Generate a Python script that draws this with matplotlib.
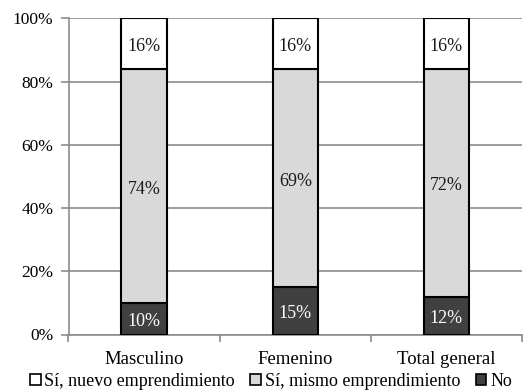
import matplotlib
matplotlib.use("Agg")
import matplotlib.pyplot as plt
import numpy as np
from matplotlib.patches import Patch

categories = ["Masculino", "Femenino", "Total general"]
no_vals = [10, 15, 12]
mismo_vals = [74, 69, 72]
nuevo_vals = [16, 16, 16]
series_names = ["Sí, nuevo emprendimiento", "Sí, mismo emprendimiento", "No"]
ytick_labels = ["0%", "20%", "40%", "60%", "80%", "100%"]

plt.rcParams["font.family"] = ["Liberation Serif", "DejaVu Serif"]

fig = plt.figure(figsize=(5.23, 3.92), dpi=100)
ax = fig.add_axes([68.5 / 523, 1 - 334.5 / 392, (522 - 68.5) / 523, (334.5 - 18.3) / 392])

x = np.arange(len(categories))
w = 0.3
dark, light, white = "#404040", "#d9d9d9", "#ffffff"

no_arr = np.array(no_vals, float)
mismo_arr = np.array(mismo_vals, float)
nuevo_arr = np.array(nuevo_vals, float)

ax.bar(x, no_arr, w, color=dark, edgecolor="black", linewidth=1.5, zorder=3)
ax.bar(x, mismo_arr, w, bottom=no_arr, color=light, edgecolor="black", linewidth=1.5, zorder=3)
ax.bar(x, nuevo_arr, w, bottom=no_arr + mismo_arr, color=white, edgecolor="black", linewidth=1.5, zorder=3)

LFS = 13
for i in range(len(categories)):
    ax.text(x[i], no_arr[i] / 2 - 1, f"{no_vals[i]}%", ha="center", va="center", color="white", fontsize=LFS, zorder=4)
    ax.text(x[i], no_arr[i] + mismo_arr[i] / 2 - 1, f"{mismo_vals[i]}%", ha="center", va="center", color="#1a1a1a", fontsize=LFS, zorder=4)
    ax.text(x[i], no_arr[i] + mismo_arr[i] + nuevo_arr[i] / 2 - 1, f"{nuevo_vals[i]}%", ha="center", va="center", color="#1a1a1a", fontsize=LFS, zorder=4)

ax.set_xlim(-0.5, 2.5)
ax.set_ylim(0, 100)
ax.set_yticks(np.arange(0, 101, 20))
ax.set_yticklabels(ytick_labels, fontsize=12.5)
ax.yaxis.grid(True, color="#8c8c8c", linewidth=1.2, zorder=0)
ax.set_axisbelow(True)

# Category labels centered, tick marks on category boundaries
ax.set_xticks(x)
ax.set_xticklabels(categories, fontsize=13.5)
ax.tick_params(axis="x", which="major", length=0, pad=12)
ax.set_xticks(np.arange(-0.5, 2.6, 1.0), minor=True)
ax.tick_params(axis="x", which="minor", length=5, color="#8c8c8c", width=1.2, direction="out")
ax.tick_params(axis="y", length=6, color="#8c8c8c", width=1.2, pad=5)

for s in ["top", "right"]:
    ax.spines[s].set_visible(False)
for s in ["left", "bottom"]:
    ax.spines[s].set_color("#8c8c8c")
    ax.spines[s].set_linewidth(1.2)

handles = [Patch(facecolor=white, edgecolor="black", linewidth=1.2),
           Patch(facecolor=light, edgecolor="black", linewidth=1.2),
           Patch(facecolor=dark, edgecolor="black", linewidth=1.2)]
fig.legend(handles, series_names, loc="center left", bbox_to_anchor=(30 / 523, 1 - 381.5 / 392),
           ncol=3, frameon=False, fontsize=13, handlelength=0.6, handleheight=0.6,
           handletextpad=0.2, columnspacing=0.85, borderaxespad=0, borderpad=0)

fig.savefig("out.png", dpi=100)
